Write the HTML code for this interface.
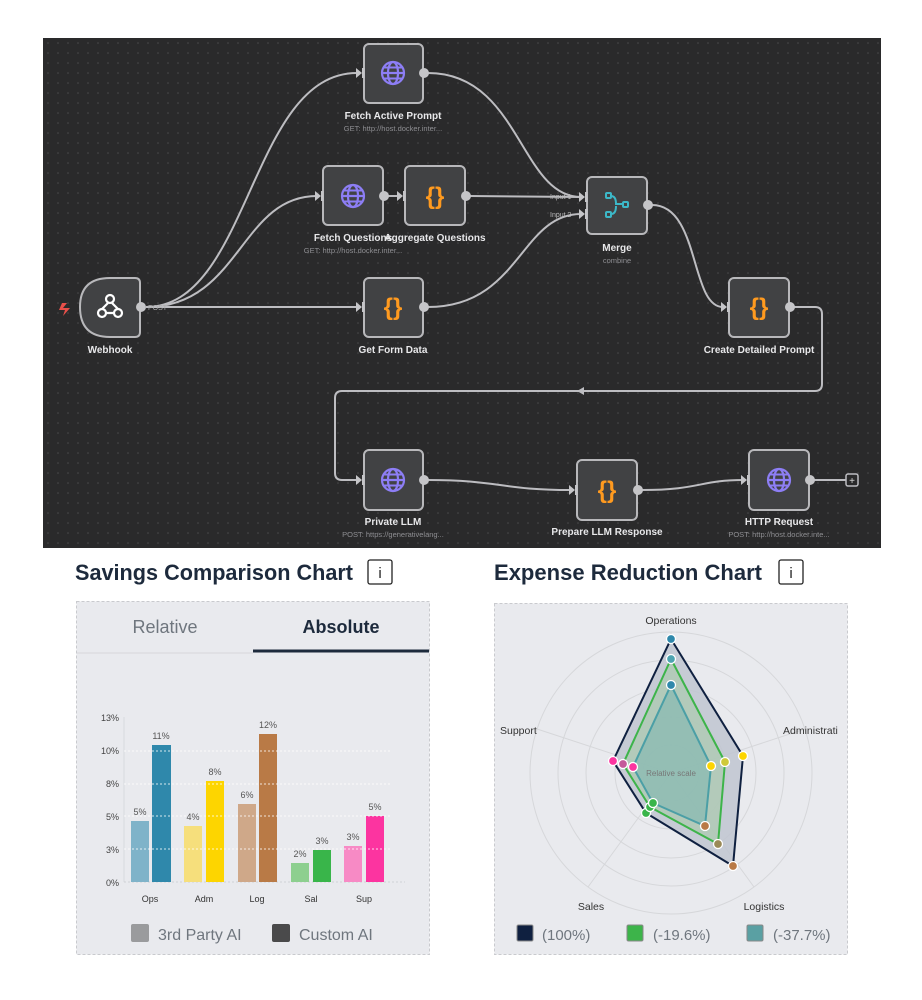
<!DOCTYPE html>
<html><head><meta charset="utf-8"><style>
html,body{margin:0;padding:0;background:#fff;}
svg{display:block;}
text{font-family:"Liberation Sans",sans-serif;}
</style></head><body>
<svg width="922" height="1000" viewBox="0 0 922 1000" xmlns="http://www.w3.org/2000/svg">
<defs>
<pattern id="dots" x="43" y="38" width="10" height="10" patternUnits="userSpaceOnUse">
<rect width="10" height="10" fill="#2a2a2b"/><circle cx="5" cy="5" r="0.8" fill="#4a4a4c"/>
</pattern>
<g id="globe"><circle r="11" fill="none" stroke="#8d7ef5" stroke-width="2.2"/><ellipse rx="5" ry="11" fill="none" stroke="#8d7ef5" stroke-width="2.2"/><line x1="-11" x2="11" stroke="#8d7ef5" stroke-width="2.2"/><line x1="-9.5" x2="9.5" y1="-5.5" y2="-5.5" stroke="#8d7ef5" stroke-width="2"/><line x1="-9.5" x2="9.5" y1="5.5" y2="5.5" stroke="#8d7ef5" stroke-width="2"/></g>
<g id="inp"><polygon points="-6,-5 0,0 -6,5" fill="#c5c5c8"/><rect x="0" y="-5" width="2.5" height="10" fill="#c5c5c8"/></g>
</defs>
<rect x="0" y="0" width="922" height="1000" fill="#fff"/>
<rect x="43" y="38" width="838" height="510" fill="url(#dots)"/>
<!-- connectors -->
<g fill="none" stroke="#bdbdc1" stroke-width="2">
<path d="M146 307 C250 307 250 73 357 73"/>
<path d="M146 307 C240 307 240 196 317 196"/>
<path d="M146 307 L357 307"/>
<path d="M383 196 L399 196"/>
<path d="M428 73 C520 73 520 197 581 197"/>
<path d="M470 196 L581 197"/>
<path d="M428 307 C520 307 520 214 581 214"/>
<path d="M652 205 C700 205 690 307 723 307"/>
<path d="M794 307 L815 307 Q822 307 822 314 L822 384 Q822 391 815 391 L342 391 Q335 391 335 398 L335 473 Q335 480 342 480 L358 480"/>
<path d="M428 480 C500 480 500 490 571 490"/>
<path d="M642 490 C700 490 700 480 743 480"/>
<path d="M814 480 L846 480"/>
</g>
<polygon points="577,391 584,387 584,395" fill="#bdbdc1"/>
<rect x="846" y="474" width="12" height="12" rx="2" fill="#2a2a2b" stroke="#bdbdc1" stroke-width="1.5"/>
<text x="852" y="484" font-size="10" fill="#ddd" text-anchor="middle">+</text>
<!-- nodes -->
<g fill="#414244" stroke="#b8b8bb" stroke-width="2">
<path d="M110 278 L135 278 Q140 278 140 283 L140 332 Q140 337 135 337 L110 337 Q80 337 80 307 Q80 278 110 278 Z"/>
<rect x="364" y="44" width="59" height="59" rx="5"/>
<rect x="323" y="166" width="60" height="59" rx="5"/>
<rect x="405" y="166" width="60" height="59" rx="5"/>
<rect x="364" y="278" width="59" height="59" rx="5"/>
<rect x="587" y="177" width="60" height="57" rx="5"/>
<rect x="729" y="278" width="60" height="59" rx="5"/>
<rect x="364" y="450" width="59" height="60" rx="5"/>
<rect x="577" y="460" width="60" height="60" rx="5"/>
<rect x="749" y="450" width="60" height="60" rx="5"/>
</g>
<!-- output handles -->
<g fill="#c5c5c8">
<circle cx="141" cy="307" r="5"/><circle cx="424" cy="73" r="5"/><circle cx="384" cy="196" r="5"/><circle cx="466" cy="196" r="5"/><circle cx="424" cy="307" r="5"/><circle cx="648" cy="205" r="5"/><circle cx="790" cy="307" r="5"/><circle cx="424" cy="480" r="5"/><circle cx="638" cy="490" r="5"/><circle cx="810" cy="480" r="5"/>
</g>
<use href="#inp" x="362" y="73"/><use href="#inp" x="321" y="196"/><use href="#inp" x="403" y="196"/><use href="#inp" x="362" y="307"/><use href="#inp" x="585" y="197"/><use href="#inp" x="585" y="214"/><use href="#inp" x="727" y="307"/><use href="#inp" x="362" y="480"/><use href="#inp" x="575" y="490"/><use href="#inp" x="747" y="480"/>
<!-- icons -->
<use href="#globe" x="393" y="73"/><use href="#globe" x="353" y="196"/><use href="#globe" x="393" y="480"/><use href="#globe" x="779" y="480"/>
<g font-size="24" fill="#ff9a1f" text-anchor="middle" font-weight="bold" font-family="Liberation Mono,monospace">
<text x="435" y="204">{}</text><text x="393" y="315">{}</text><text x="759" y="315">{}</text><text x="607" y="498">{}</text>
</g>
<g fill="none" stroke="#3cb8c8" stroke-width="2">
<rect x="606" y="193" width="5" height="5" rx="1"/><rect x="606" y="212" width="5" height="5" rx="1"/><rect x="623" y="202" width="5" height="5" rx="1"/>
<path d="M611 196 Q616 196 616 204 L623 204 M611 214 Q616 214 616 206"/>
</g>
<g fill="none" stroke="#fff" stroke-width="2.2">
<circle cx="110" cy="299" r="4"/><circle cx="102" cy="313" r="4"/><circle cx="118" cy="313" r="4"/>
<path d="M108 303 L102 309 M106 313 L114 313 M112 303 L118 309"/>
</g>
<path d="M62 303 L67 303 L63 308 L70 308 L63 316 L65 310 L59 310 Z" fill="#e8504a"/>
<text x="148" y="310" font-size="7" fill="#aaa">POST</text>
<text x="550" y="199" font-size="7" fill="#bbb">Input 1</text>
<text x="550" y="217" font-size="7" fill="#bbb">Input 2</text>
<!-- labels -->
<g font-size="10" font-weight="bold" fill="#e8e8ea" text-anchor="middle">
<text x="110" y="353">Webhook</text><text x="393" y="119">Fetch Active Prompt</text><text x="353" y="241">Fetch Questions</text><text x="435" y="241">Aggregate Questions</text><text x="393" y="353">Get Form Data</text><text x="617" y="251">Merge</text><text x="759" y="353">Create Detailed Prompt</text><text x="393" y="525">Private LLM</text><text x="607" y="535">Prepare LLM Response</text><text x="779" y="525">HTTP Request</text>
</g>
<g font-size="7.5" fill="#8e8e92" text-anchor="middle">
<text x="393" y="131">GET: http://host.docker.inter...</text><text x="353" y="253">GET: http://host.docker.inter...</text><text x="617" y="263">combine</text><text x="393" y="537">POST: https://generativelang...</text><text x="779" y="537">POST: http://host.docker.inte...</text>
</g>
<!-- titles -->
<g font-size="22" font-weight="bold" fill="#1d2a3c">
<text x="75" y="580" textLength="278" lengthAdjust="spacingAndGlyphs">Savings Comparison Chart</text>
<text x="494" y="580" textLength="268" lengthAdjust="spacingAndGlyphs">Expense Reduction Chart</text>
</g>
<rect x="368" y="560" width="24" height="24" rx="2" fill="#fff" stroke="#222" stroke-width="1.3"/>
<text x="380" y="578" font-size="15" text-anchor="middle" fill="#222">i</text>
<rect x="779" y="560" width="24" height="24" rx="2" fill="#fff" stroke="#222" stroke-width="1.3"/>
<text x="791" y="578" font-size="15" text-anchor="middle" fill="#222">i</text>
<!-- card 1 -->
<rect x="76.5" y="601.5" width="353" height="353" fill="#e9eaee" stroke="#c9cace" stroke-dasharray="3 2"/>
<text x="165" y="633" font-size="18" fill="#6f767e" text-anchor="middle">Relative</text>
<text x="341" y="633" font-size="18" font-weight="bold" fill="#1d2a3c" text-anchor="middle">Absolute</text>
<line x1="77" y1="653" x2="253" y2="653" stroke="#d6d7db"/>
<line x1="253" y1="651" x2="429" y2="651" stroke="#1d2a3c" stroke-width="3"/>
<line x1="124" y1="717" x2="124" y2="882" stroke="#d8d9dd"/>
<line x1="124" y1="882" x2="405" y2="882" stroke="#d0d1d5" stroke-dasharray="2 2"/>
<g font-size="9" fill="#444" text-anchor="end">
<text x="119" y="721">13%</text><text x="119" y="754">10%</text><text x="119" y="787">8%</text><text x="119" y="820">5%</text><text x="119" y="853">3%</text><text x="119" y="886">0%</text>
</g>
<g>
<rect x="131" y="821" width="18" height="61" fill="#7fb3c9"/><rect x="152" y="745" width="19" height="137" fill="#2f88ab"/>
<rect x="184" y="826" width="18" height="56" fill="#f6df7c"/><rect x="206" y="781" width="18" height="101" fill="#fdd500"/>
<rect x="238" y="804" width="18" height="78" fill="#cfa889"/><rect x="259" y="734" width="18" height="148" fill="#b97a46"/>
<rect x="291" y="863" width="18" height="19" fill="#8dcf8f"/><rect x="313" y="850" width="18" height="32" fill="#39b54a"/>
<rect x="344" y="846" width="18" height="36" fill="#f78ac5"/><rect x="366" y="816" width="18" height="66" fill="#fc34a0"/>
</g>
<g stroke="#fff" stroke-width="1" stroke-dasharray="2 2" opacity="0.8">
<line x1="124" y1="849" x2="390" y2="849"/><line x1="124" y1="816" x2="390" y2="816"/><line x1="124" y1="784" x2="390" y2="784"/><line x1="124" y1="751" x2="390" y2="751"/>
</g>
<rect x="124" y="700" width="290" height="0" fill="none"/>
<g font-size="9" fill="#555" text-anchor="middle">
<text x="140" y="815">5%</text><text x="161" y="739">11%</text><text x="193" y="820">4%</text><text x="215" y="775">8%</text><text x="247" y="798">6%</text><text x="268" y="728">12%</text><text x="300" y="857">2%</text><text x="322" y="844">3%</text><text x="353" y="840">3%</text><text x="375" y="810">5%</text>
<text x="150" y="902" fill="#333">Ops</text><text x="204" y="902" fill="#333">Adm</text><text x="257" y="902" fill="#333">Log</text><text x="311" y="902" fill="#333">Sal</text><text x="364" y="902" fill="#333">Sup</text>
</g>
<rect x="131" y="924" width="18" height="18" rx="2" fill="#9a9b9d"/>
<text x="158" y="940" font-size="16" fill="#6f767e">3rd Party AI</text>
<rect x="272" y="924" width="18" height="18" rx="2" fill="#4a4a4b"/>
<text x="299" y="940" font-size="16" fill="#6f767e">Custom AI</text>
<!-- card 2 -->
<rect x="494.5" y="603.5" width="353" height="351" fill="#e9eaee" stroke="#c9cace" stroke-dasharray="3 2"/>
<g fill="none" stroke="#d6d7da">
<circle cx="671" cy="773" r="141"/><circle cx="671" cy="773" r="113"/><circle cx="671" cy="773" r="85"/><circle cx="671" cy="773" r="56"/><circle cx="671" cy="773" r="28"/>
<line x1="671" y1="773" x2="671" y2="632"/><line x1="671" y1="773" x2="805" y2="729"/><line x1="671" y1="773" x2="754" y2="887"/><line x1="671" y1="773" x2="588" y2="887"/><line x1="671" y1="773" x2="537" y2="729"/>
</g>
<polygon points="671,639 743,756 733,866 646,813 613,761" fill="#bfc6d0" fill-opacity="0.85" stroke="#0f2040" stroke-width="2"/>
<polygon points="671,659 725,762 718,844 650,807 623,764" fill="#a7c9a8" fill-opacity="0.6" stroke="#3db44a" stroke-width="2"/>
<polygon points="671,685 711,766 705,826 653,803 633,767" fill="#7fb5b0" fill-opacity="0.6" stroke="#4b9fa6" stroke-width="2"/>
<text x="671" y="776" font-size="8" fill="#777" text-anchor="middle">Relative scale</text>
<g stroke="#fff" stroke-width="1.3">
<circle cx="671" cy="639" r="4.5" fill="#2f88ab"/><circle cx="671" cy="659" r="4.5" fill="#4da3b0"/><circle cx="671" cy="685" r="4.5" fill="#2f88ab"/>
<circle cx="743" cy="756" r="4.5" fill="#fdd500"/><circle cx="725" cy="762" r="4.5" fill="#cfc93a"/><circle cx="711" cy="766" r="4.5" fill="#fdd500"/>
<circle cx="733" cy="866" r="4.5" fill="#b97a46"/><circle cx="718" cy="844" r="4.5" fill="#9a8a58"/><circle cx="705" cy="826" r="4.5" fill="#b97a46"/>
<circle cx="646" cy="813" r="4.5" fill="#39b54a"/><circle cx="650" cy="807" r="4.5" fill="#39b54a"/><circle cx="653" cy="803" r="4.5" fill="#39b54a"/>
<circle cx="613" cy="761" r="4.5" fill="#fc34a0"/><circle cx="623" cy="764" r="4.5" fill="#c45a9a"/><circle cx="633" cy="767" r="4.5" fill="#fc34a0"/>
</g>
<g font-size="10.5" fill="#333">
<text x="671" y="624" text-anchor="middle">Operations</text>
<text x="783" y="734">Administrati</text>
<text x="500" y="734">Support</text>
<text x="591" y="910" text-anchor="middle">Sales</text>
<text x="764" y="910" text-anchor="middle">Logistics</text>
</g>
<rect x="517" y="925" width="16" height="16" rx="1.5" fill="#0f2040" stroke="#888"/>
<text x="542" y="940" font-size="15" fill="#6f767e">(100%)</text>
<rect x="627" y="925" width="16" height="16" rx="1.5" fill="#3db44a" stroke="#888"/>
<text x="653" y="940" font-size="15" fill="#6f767e">(-19.6%)</text>
<rect x="747" y="925" width="16" height="16" rx="1.5" fill="#5aa0a3" stroke="#888"/>
<text x="773" y="940" font-size="15" fill="#6f767e">(-37.7%)</text>
</svg>
</body></html>
